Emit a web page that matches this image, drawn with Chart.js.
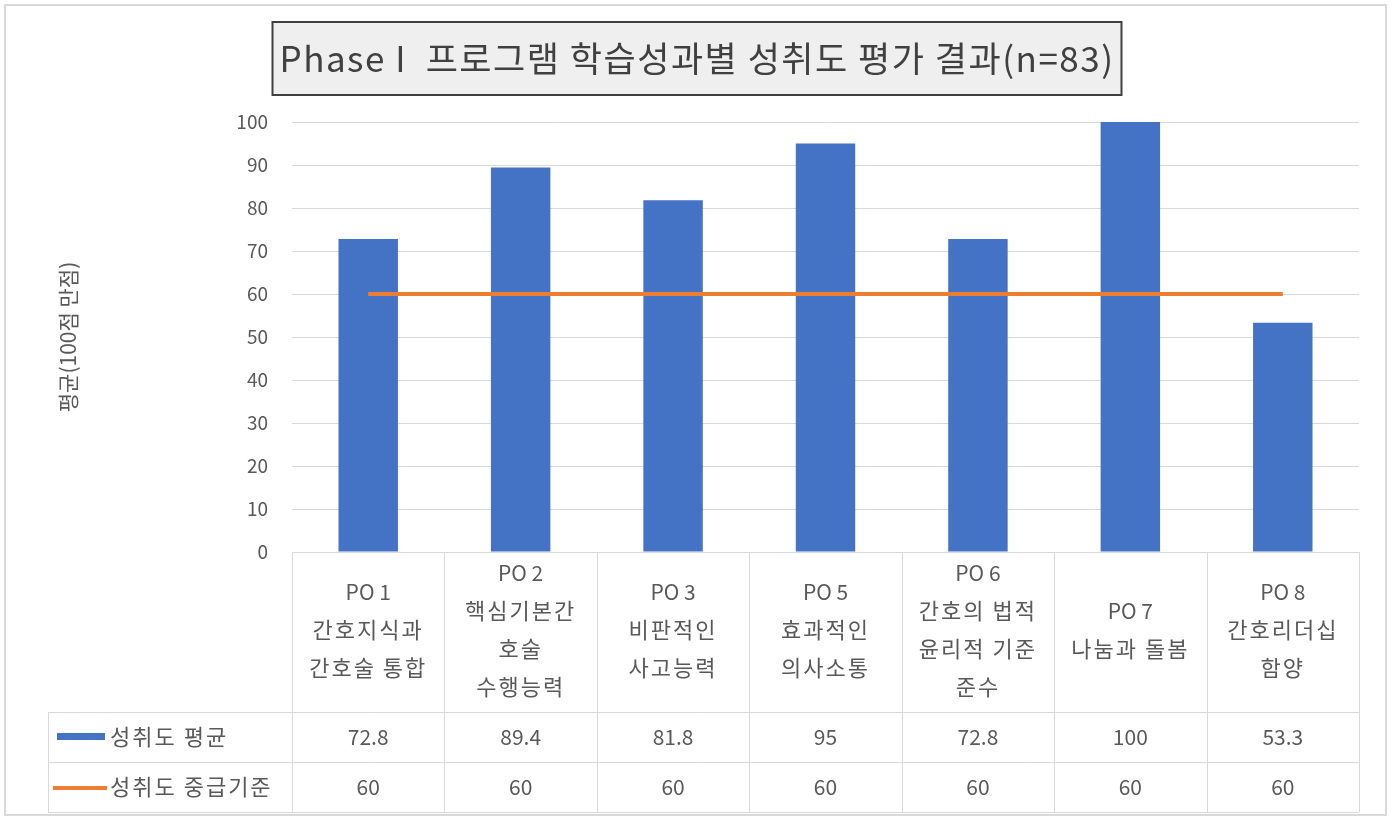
<!DOCTYPE html>
<html>
<head>
<meta charset="utf-8">
<script src="https://cdn.jsdelivr.net/npm/chart.js@4"></script>
<style>
  html, body { margin: 0; padding: 0; background: #ffffff; }
  #wrap { width: 1394px; height: 817px; position: relative; }
</style>
</head>
<body>
<div id="wrap"><canvas id="chart"></canvas></div>
<script>
// data
const categories = [
    ['PO 1', '간호지식과', '간호술 통합'],
    ['PO 2', '핵심기본간', '호술', '수행능력'],
    ['PO 3', '비판적인', '사고능력'],
    ['PO 5', '효과적인', '의사소통'],
    ['PO 6', '간호의 법적', '윤리적 기준', '준수'],
    ['PO 7', '나눔과 돌봄'],
    ['PO 8', '간호리더십', '함양']
];
const avgScores = [72.8, 89.4, 81.8, 95, 72.8, 100, 53.3];
const passLine = [60, 60, 60, 60, 60, 60, 60];
const seriesNames = ['성취도 평균', '성취도 중급기준'];
const titleText = 'Phase I  프로그램 학습성과별 성취도 평가 결과(n=83)';
const yTitle = '평균(100점 만점)';

const FONT = '"Noto Sans CJK KR", "Noto Sans", sans-serif';
const BLUE = '#4472C4';
const ORANGE = '#ED7D31';
const TEXT = '#595959';
const LINE = '#d9d9d9';

const hasHangul = (s) => /[\uac00-\ud7a3]/.test(s);

// title box, outer frame and data table
const frameAndTable = {
    id: 'frameAndTable',
    beforeDraw(chart) {
        const ctx = chart.ctx;
        ctx.save();
        ctx.strokeStyle = LINE;
        ctx.lineWidth = 2;
        ctx.strokeRect(5, 5, 1381, 810);

        // title
        ctx.font = '35px ' + FONT;
        ctx.letterSpacing = '1.5px';
        const w = ctx.measureText(titleText).width;
        const cx = chart.width / 2;
        const bw = w + 14;
        ctx.fillStyle = '#efefef';
        ctx.fillRect(cx - bw / 2, 22, bw, 73);
        ctx.strokeStyle = '#404040';
        ctx.lineWidth = 2;
        ctx.strokeRect(cx - bw / 2, 22, bw, 73);
        ctx.fillStyle = '#404040';
        ctx.textAlign = 'center';
        ctx.textBaseline = 'middle';
        ctx.fillText(titleText, cx, 59);
        ctx.restore();
    },
    afterDraw(chart) {
        const ctx = chart.ctx;
        const area = chart.chartArea;
        const x = chart.scales.x;
        const n = categories.length;
        const cw = (area.right - area.left) / n;
        const catBottom = area.bottom + 160;
        const rowH = 50;
        const tableLeft = 48;

        ctx.save();
        ctx.strokeStyle = LINE;
        ctx.lineWidth = 1;
        ctx.beginPath();
        // horizontal lines
        ctx.moveTo(area.left, area.bottom + 0.5);
        ctx.lineTo(area.right, area.bottom + 0.5);
        for (let r = 0; r <= 2; r++) {
            const y = Math.round(catBottom + r * rowH) + 0.5;
            ctx.moveTo(tableLeft, y);
            ctx.lineTo(area.right, y);
        }
        // vertical lines
        for (let i = 0; i <= n; i++) {
            const vx = Math.round(x.getPixelForValue(i) - cw / 2) + 0.5;
            ctx.moveTo(vx, area.bottom);
            ctx.lineTo(vx, catBottom + 2 * rowH);
        }
        ctx.moveTo(tableLeft + 0.5, catBottom);
        ctx.lineTo(tableLeft + 0.5, catBottom + 2 * rowH);
        ctx.stroke();

        ctx.fillStyle = TEXT;
        ctx.textAlign = 'center';
        ctx.textBaseline = 'middle';
        const midCat = (area.bottom + catBottom) / 2 - 2;
        const lh = 38;
        categories.forEach((lines, i) => {
            const px = x.getPixelForValue(i);
            const y0 = midCat - (lines.length - 1) * lh / 2;
            lines.forEach((t, j) => {
                ctx.font = (hasHangul(t) ? '22px ' : '21px ') + FONT;
                ctx.letterSpacing = hasHangul(t) ? '2px' : '0px';
                ctx.fillText(t, px, y0 + j * lh);
            });
            ctx.font = '21px ' + FONT;
            ctx.letterSpacing = '0px';
            ctx.fillText(String(avgScores[i]), px, catBottom + rowH / 2);
            ctx.fillText(String(passLine[i]), px, catBottom + rowH * 1.5);
        });

        // legend keys + series names
        ctx.textAlign = 'left';
        ctx.fillStyle = BLUE;
        ctx.fillRect(57, catBottom + rowH / 2 - 4, 48, 7);
        ctx.strokeStyle = ORANGE;
        ctx.lineWidth = 4;
        ctx.beginPath();
        ctx.moveTo(53, catBottom + rowH * 1.5 + 1);
        ctx.lineTo(107, catBottom + rowH * 1.5 + 1);
        ctx.stroke();
        ctx.fillStyle = TEXT;
        ctx.font = '22px ' + FONT;
        ctx.letterSpacing = '2px';
        ctx.fillText(seriesNames[0], 110, catBottom + rowH / 2);
        ctx.fillText(seriesNames[1], 110, catBottom + rowH * 1.5);
        ctx.restore();
    }
};

new Chart(document.getElementById('chart'), {
    data: {
        labels: categories,
        datasets: [
            {
                type: 'bar',
                label: seriesNames[0],
                data: avgScores,
                backgroundColor: BLUE,
                categoryPercentage: 1,
                barPercentage: 0.39,
                order: 2
            },
            {
                type: 'line',
                label: seriesNames[1],
                data: passLine,
                borderColor: ORANGE,
                borderWidth: 4,
                pointRadius: 0,
                fill: false,
                order: 1
            }
        ]
    },
    options: {
        responsive: true,
        maintainAspectRatio: false,
        animation: false,
        layout: { padding: { left: 49, right: 35, top: 122, bottom: 265 } },
        plugins: {
            legend: { display: false },
            tooltip: { enabled: false }
        },
        scales: {
            x: { display: false, offset: true },
            y: {
                min: 0,
                max: 100,
                ticks: { stepSize: 10, color: TEXT, padding: 24, font: { family: FONT, size: 19 } },
                grid: { color: LINE, drawTicks: false },
                border: { display: false },
                title: {
                    display: true,
                    text: yTitle,
                    color: TEXT,
                    font: { family: FONT, size: 21 },
                    padding: { top: 6 }
                },
                afterFit(scale) { scale.width = 243; }
            }
        }
    },
    plugins: [frameAndTable]
});
</script>
</body>
</html>
